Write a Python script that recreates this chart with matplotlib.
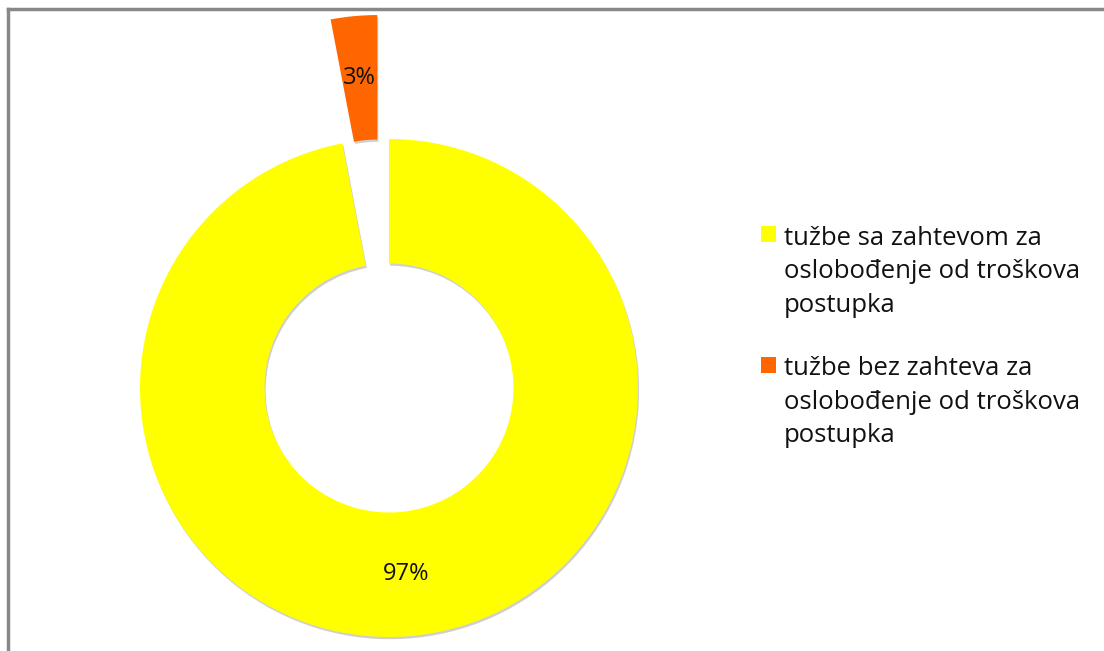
import matplotlib.pyplot as plt
import matplotlib.patheffects as pe
from matplotlib.lines import Line2D
from matplotlib.patches import Rectangle
from matplotlib.legend_handler import HandlerPatch

# data
labels = ['tužbe sa zahtevom za\noslobođenje od troškova\npostupka',
          'tužbe bez zahteva za\noslobođenje od troškova\npostupka']
values = [97, 3]
colors = ['#FFFF00', '#FF6600']
explode = [0, 0.5]

plt.rcParams['font.family'] = ['Open Sans', 'DejaVu Sans']

fig = plt.figure(figsize=(11.04, 6.51), dpi=100)
ax = fig.add_axes([0, 0, 1, 1])

wedges, texts, autotexts = ax.pie(values, colors=colors, explode=explode,
                                  startangle=90, counterclock=False,
                                  autopct='%d%%', pctdistance=0.75,
                                  wedgeprops=dict(width=0.5, linewidth=0),
                                  textprops=dict(fontsize=17, color='#111111'))
for w in wedges:
    w.set_path_effects([pe.SimplePatchShadow(offset=(0.8, -1.6), shadow_rgbFace='#777777', alpha=0.35),
                        pe.Normal()])

# pie centre at (389, 388) px, radius 249 px
ax.set_xlim(-389 / 249, (1104 - 389) / 249)
ax.set_ylim(-(651 - 388) / 249, 388 / 249)
ax.axis('off')


# legend square next to the first line of the label, no shadow
class TopSquare(HandlerPatch):
    def create_artists(self, legend, orig_handle, xdescent, ydescent,
                       width, height, fontsize, trans):
        p = Rectangle((-xdescent, -ydescent + 27.5), width, height)
        self.update_prop(p, orig_handle, legend)
        p.set_path_effects([])
        p.set_transform(trans)
        return [p]


leg = fig.legend(wedges, labels, loc='upper left', bbox_to_anchor=(0.6777, 0.673),
                 frameon=False, fontsize=18.5, handlelength=0.6, handleheight=0.6,
                 handletextpad=0.3, labelspacing=1.5, borderpad=0,
                 handler_map={w: TopSquare() for w in wedges})
for t in leg.get_texts():
    t.set_linespacing(1.45)
    t.set_color('#111111')

# frame lines at left and top
fig.add_artist(Line2D([8 / 1104, 8 / 1104], [0, 1 - 9 / 651], color='#888888', lw=2.5))
fig.add_artist(Line2D([8 / 1104, 1], [1 - 9 / 651, 1 - 9 / 651], color='#888888', lw=2.5))

plt.savefig('out.png', dpi=100)
